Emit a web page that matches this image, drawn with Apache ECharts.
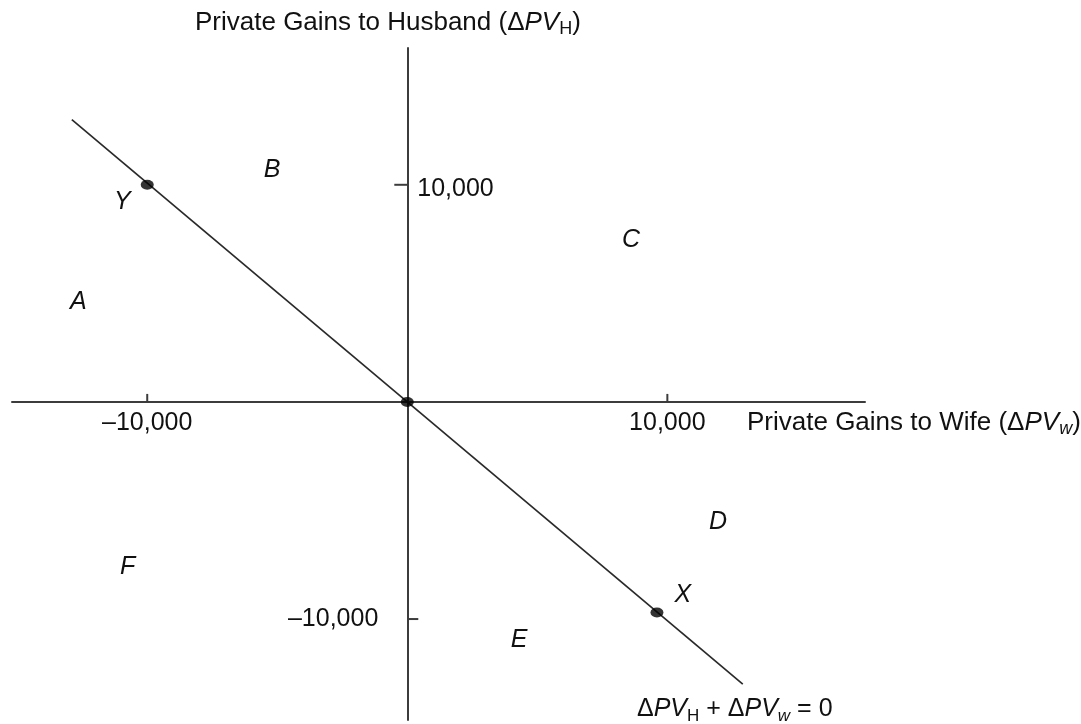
<!DOCTYPE html>
<html>
<head>
<meta charset="utf-8">
<script src="https://cdn.jsdelivr.net/npm/echarts@6/dist/echarts.min.js"></script>
<style>html,body{margin:0;padding:0;background:#fff}#c{width:1081px;height:724px}</style>
</head>
<body>
<div id="c"></div>
<script>
// ---- data ----
const xTicks = [-10000, 10000];
const yTicks = [10000, -10000];
const budgetLine = [[-12900, 13000], [12900, -13000]];
const points = [[-10000, 10000], [0, 0], [9600, -9700]];
const pointNames = ['Y', 'X'];
const pointNamePos = [[-10960, 9200], [10600, -8900]];
const regionNames = ['A', 'B', 'C', 'D', 'E', 'F'];
const regionPos = [[-12650, 4600], [-5200, 10700], [8600, 7450], [11950, -5550], [4300, -10950], [-10750, -7600]];

const FONT = "'Liberation Sans', Arial, Helvetica, sans-serif";
const INK = '#111';
const AXIS = '#3c3c3c';
const fmt = v => (v < 0 ? '\u2013' : '') + Math.abs(v).toLocaleString('en-US');

const chart = echarts.init(document.getElementById('c'), null, {renderer: 'canvas'});

function subRich(fs) {
  const ss = Math.round(fs * 0.68);
  return {
    n: {fontSize: fs, fontFamily: FONT, fill: INK, lineHeight: 30},
    i: {fontSize: fs, fontFamily: FONT, fill: INK, fontStyle: 'italic', lineHeight: 30},
    s: {fontSize: ss, fontFamily: FONT, fill: INK, lineHeight: 15, verticalAlign: 'bottom'},
    si: {fontSize: ss, fontFamily: FONT, fill: INK, fontStyle: 'italic', lineHeight: 15, verticalAlign: 'bottom'}
  };
}

const textLabels = regionNames.map((n, k) => [regionPos[k][0], regionPos[k][1], n])
  .concat(pointNames.map((n, k) => [pointNamePos[k][0], pointNamePos[k][1], n]));

chart.setOption({
  animation: false,
  backgroundColor: '#fff',
  grid: {left: 12, right: 216, top: 48, bottom: 4, containLabel: false, outerBoundsMode: 'none'},
  xAxis: {
    type: 'value', min: -15200, max: 17600,
    splitLine: {show: false},
    axisLine: {onZero: true, lineStyle: {color: AXIS, width: 2}},
    axisTick: {show: false},
    axisLabel: {show: false}
  },
  yAxis: {
    type: 'value', min: -14650, max: 16300,
    splitLine: {show: false},
    axisLine: {onZero: true, lineStyle: {color: AXIS, width: 2}},
    axisTick: {show: false},
    axisLabel: {show: false}
  },
  graphic: [
    {type: 'text', left: 195, top: 10, z: 10,
      style: {text: '{n|Private Gains to Husband (\u0394}{i|PV}{s|H}{n|)}', rich: subRich(26),
        fontSize: 26, fontFamily: FONT, fill: INK}},
    {type: 'text', left: 747, top: 410, z: 10,
      style: {text: '{n|Private Gains to Wife (\u0394}{i|PV}{si|w}{n|)}', rich: subRich(26),
        fontSize: 26, fontFamily: FONT, fill: INK}},
    {type: 'text', left: 637, top: 697, z: 10,
      style: {text: '{n|\u0394}{i|PV}{s|H}{n| + \u0394}{i|PV}{si|w}{n| = 0}', rich: subRich(25),
        fontSize: 25, fontFamily: FONT, fill: INK}}
  ],
  series: [
    {
      type: 'line', data: budgetLine, symbol: 'none', silent: true,
      lineStyle: {color: '#2a2a2a', width: 1.7}, z: 3
    },
    {
      type: 'scatter', data: points, symbol: 'circle', symbolSize: [13, 10],
      itemStyle: {color: '#000'}, z: 5, silent: true
    },
    {
      // x-axis ticks and labels
      type: 'custom', silent: true, z: 4,
      data: xTicks.map(v => [v, 0]),
      renderItem: function (params, api) {
        const v = api.value(0);
        const p = api.coord([v, 0]);
        return {
          type: 'group',
          children: [
            {type: 'line', shape: {x1: p[0], y1: p[1], x2: p[0], y2: p[1] - 8},
              style: {stroke: AXIS, lineWidth: 2}},
            {type: 'text', style: {
              text: fmt(v), x: p[0], y: p[1] + 21,
              align: 'center', verticalAlign: 'middle',
              fontSize: 25, fontFamily: FONT, fill: INK}}
          ]
        };
      }
    },
    {
      // y-axis ticks and labels
      type: 'custom', silent: true, z: 4,
      data: yTicks.map(v => [0, v]),
      renderItem: function (params, api) {
        const v = api.value(1);
        const p = api.coord([0, v]);
        const dir = v > 0 ? -1 : 1;
        const len = v > 0 ? 13 : 11;
        return {
          type: 'group',
          children: [
            {type: 'line', shape: {x1: p[0], y1: p[1], x2: p[0] + dir * len, y2: p[1]},
              style: {stroke: AXIS, lineWidth: 2}},
            {type: 'text', style: {
              text: fmt(v), x: v > 0 ? p[0] + 10 : p[0] - 29, y: p[1] + (v > 0 ? 4 : 0),
              align: v > 0 ? 'left' : 'right', verticalAlign: 'middle',
              fontSize: 25, fontFamily: FONT, fill: INK}}
          ]
        };
      }
    },
    {
      type: 'custom', silent: true, z: 6,
      data: textLabels,
      renderItem: function (params, api) {
        const p = api.coord([api.value(0), api.value(1)]);
        return {type: 'text', style: {
          text: textLabels[params.dataIndex][2], x: p[0], y: p[1],
          align: 'center', verticalAlign: 'middle',
          fontSize: 25, fontStyle: 'italic', fontFamily: FONT, fill: INK}};
      }
    }
  ]
});
</script>
</body>
</html>
